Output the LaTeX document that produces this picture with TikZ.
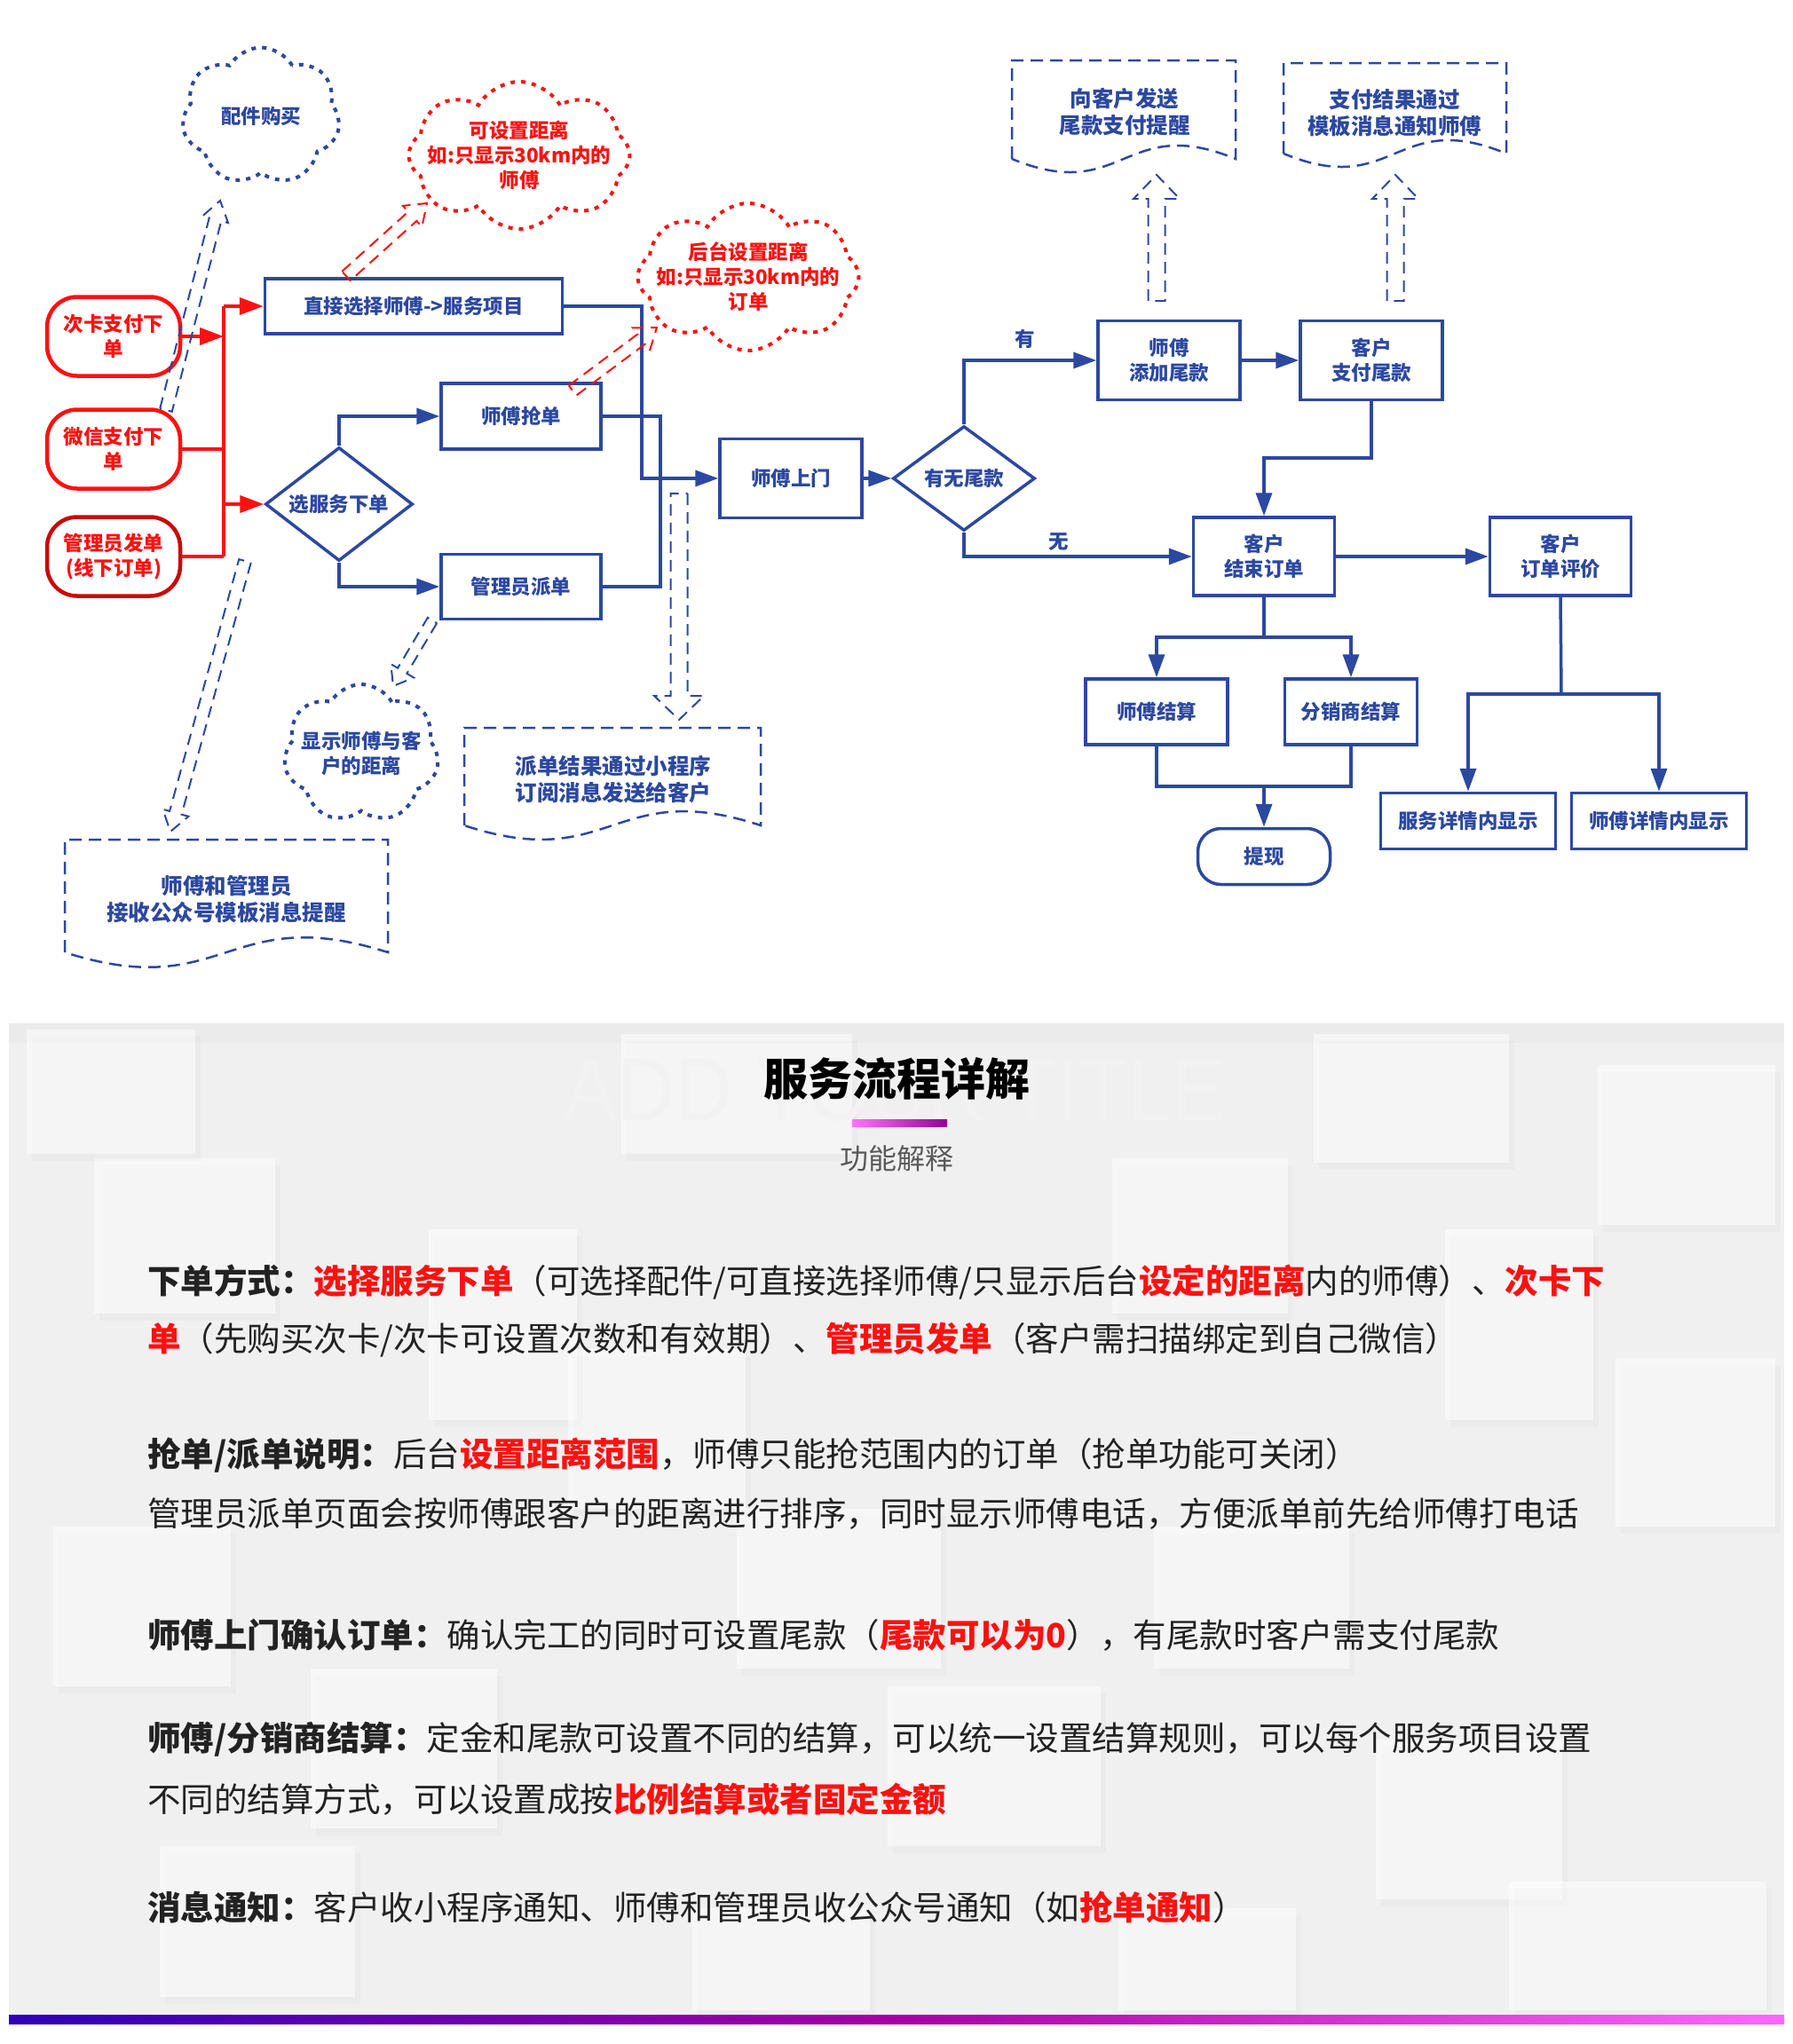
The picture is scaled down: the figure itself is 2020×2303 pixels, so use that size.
\documentclass[tikz,border=0pt]{standalone}
\usepackage{fontspec}
\setmainfont{Noto Sans CJK SC}
\newfontfamily\wmfont{Liberation Sans}
\usetikzlibrary{shapes.symbols,shapes.geometric,arrows.meta,calc}
\definecolor{fblue}{HTML}{2C48A0}
\definecolor{fred}{HTML}{FF1010}
\definecolor{dred}{HTML}{C80A0A}
\definecolor{bodyc}{HTML}{222222}
\definecolor{panel}{HTML}{F0F0F0}
\newcommand\hlred[1]{\textcolor{fred}{\bfseries #1}}
\newcommand\harrow[6]{%
  \coordinate (hA) at (#2);
  \coordinate (hB) at (#3);
  \coordinate (hC) at ($(hB)!#6!(hA)$);
  \draw[#1] ($(hA)!#4!90:(hB)$) -- ($(hC)!#4!90:(hB)$) -- ($(hC)!#5!90:(hB)$) -- (hB)
    -- ($(hC)!#5!-90:(hB)$) -- ($(hC)!#4!-90:(hB)$) -- ($(hA)!#4!-90:(hB)$) -- cycle;
}
\newcommand\docshape[6]{% style, x1, ytop, x2, ybottom, c
  \draw[#1] (#2,#5) -- (#2,#3) -- (#4,#3) -- (#4,#5)
    .. controls ({(#2+#4)/2},{#5-#6}) and ({(#2+#4)/2},{#5+#6}) .. (#2,#5);
}
\newcommand\softsq[4]{% x1 y1 x2 y2
  \fill[black,opacity=.018] (#1+6,#2+8) rectangle (#3+6,#4+8);
  \fill[white,opacity=.5] (#1,#2) rectangle (#3,#4);
}
\tikzset{
  fbfont/.style={font=\bfseries\fontsize{22.5}{28}\selectfont},
  dcfont/.style={font=\bfseries\fontsize{24.5}{30}\selectfont},
  flowbox/.style={rectangle, draw=fblue, line width=3.5pt, text=fblue, fbfont, align=center, inner sep=0pt},
  redbox/.style={rectangle, draw=fred, line width=4.5pt, text=fred, fbfont, align=center, inner sep=0pt,
    rounded corners=34pt, minimum width=150pt, minimum height=89pt},
  bline/.style={draw=fblue, line width=3.5pt},
  barrow/.style={bline, -{Triangle[length=26pt,width=18pt]}},
  rline/.style={draw=fred, line width=4pt},
  rarrow/.style={rline, -{Triangle[length=27pt,width=19pt]}},
  dotcloud/.style={cloud, cloud puffs=7, cloud puff arc=120, cloud ignores aspect, draw=fblue,
    line width=4pt, dash pattern=on 5pt off 7pt, inner sep=0pt},
  redcloud/.style={dotcloud, cloud puffs=8, draw=fred},
  cloudtext/.style={text=fblue, fbfont, align=center, inner sep=0pt},
  redtext/.style={cloudtext, text=fred},
  docline/.style={draw=fblue, line width=2.5pt, dash pattern=on 14pt off 8pt},
  doctext/.style={text=fblue, dcfont, align=center, inner sep=0pt},
  harr/.style={draw=fblue, line width=2pt, dash pattern=on 13pt off 8pt},
  hred/.style={harr, draw=fred},
  lbl/.style={text=fblue, fbfont, inner sep=0pt},
  bodyt/.style={anchor=west, inner sep=0pt, text=bodyc, font=\fontsize{37.5}{45}\selectfont},
}
\begin{document}
\begin{tikzpicture}[x=1pt,y=-1pt]
\useasboundingbox (0,0) rectangle (2020,2303);
\fill[white] (0,0) rectangle (2020,2303);

% ---------------- lower panel background ----------------
\fill[panel] (10,1153) rectangle (2010,2272);
\fill[black,opacity=.02] (10,1153) rectangle (2010,1175);
\softsq{106}{1305}{310}{1480}
\softsq{1253}{1305}{1451}{1480}
\softsq{483}{1385}{650}{1600}
\softsq{1628}{1385}{1795}{1600}
\softsq{30}{1160}{220}{1300}
\softsq{700}{1165}{960}{1300}
\softsq{1480}{1165}{1700}{1310}
\softsq{1800}{1200}{2000}{1380}
\softsq{640}{1520}{840}{1700}
\softsq{1820}{1530}{2000}{1720}
\softsq{60}{1720}{260}{1900}
\softsq{830}{1700}{1060}{1880}
\softsq{1300}{1720}{1520}{1880}
\softsq{350}{1880}{560}{2060}
\softsq{1000}{1900}{1240}{2080}
\softsq{1550}{1960}{1760}{2140}
\softsq{180}{2080}{400}{2250}
\softsq{780}{2150}{980}{2265}
\softsq{1260}{2150}{1460}{2265}
\softsq{1700}{2120}{1990}{2265}

% watermark + title
\node[inner sep=0pt, text=black!5, font=\wmfont\fontsize{100}{100}\selectfont, xscale=0.9] (wm) at (1008,1228) {ADD YOUR TITLE};
\node[inner sep=0pt, font=\bfseries\fontsize{50}{56}\selectfont, text=black] (title) at (1010,1215) {服务流程详解};
\shade[left color=magenta!55!white, right color=violet!80!magenta] (960,1261) rectangle (1067,1269);
\node[inner sep=0pt, font=\fontsize{32}{36}\selectfont, text=black!65] (sub) at (1010,1305) {功能解释};

% body lines
\node[bodyt] (l1) at (166,1444) {\textbf{下单方式：}\hlred{选择服务下单}（可选择配件/可直接选择师傅/只显示后台\hlred{设定的距离}内的师傅）、\hlred{次卡下}};
\node[bodyt] (l2) at (166,1510) {\hlred{单}（先购买次卡/次卡可设置次数和有效期）、\hlred{管理员发单}（客户需扫描绑定到自己微信）};
\node[bodyt] (l3) at (166,1640) {\textbf{抢单/派单说明：}后台\hlred{设置距离范围}，师傅只能抢范围内的订单（抢单功能可关闭）};
\node[bodyt] (l4) at (166,1706) {管理员派单页面会按师傅跟客户的距离进行排序，同时显示师傅电话，方便派单前先给师傅打电话};
\node[bodyt] (l5) at (166,1842) {\textbf{师傅上门确认订单：}确认完工的同时可设置尾款（\hlred{尾款可以为0}），有尾款时客户需支付尾款};
\node[bodyt] (l6) at (166,1960) {\textbf{师傅/分销商结算：}定金和尾款可设置不同的结算，可以统一设置结算规则，可以每个服务项目设置};
\node[bodyt] (l7) at (166,2027) {不同的结算方式，可以设置成按\hlred{比例结算或者固定金额}};
\node[bodyt] (l8) at (166,2149) {\textbf{消息通知：}客户收小程序通知、师傅和管理员收公众号通知（如\hlred{抢单通知}）};

\shade[left color=blue!60!violet!90!black, right color=magenta!60!white, middle color=violet!70!magenta] (10,2270) rectangle (2010,2280);

% ---------------- flowchart: nodes ----------------
\node[redbox] (ck) at (128,379) {次卡支付下\\单};
\node[redbox] (wx) at (128,506) {微信支付下\\单};
\node[redbox, draw=dred] (gl) at (128,627) {管理员发单\\(线下订单)};

\node[flowbox, minimum width=335pt, minimum height=62pt] (zj) at (466,345) {直接选择师傅->服务项目};
\node[diamond, aspect=1.3, draw=fblue, line width=3.5pt, text=fblue, fbfont, inner sep=0pt, minimum width=166pt, minimum height=128pt] (xfw) at (382,568) {选服务下单};
\node[flowbox, minimum width=180pt, minimum height=74pt] (qd) at (587,469) {师傅抢单};
\node[flowbox, minimum width=180pt, minimum height=73pt] (pd) at (587,661) {管理员派单};
\node[flowbox, minimum width=160pt, minimum height=89pt] (sm) at (891,539) {师傅上门};
\node[diamond, aspect=1.35, draw=fblue, line width=3.5pt, text=fblue, fbfont, inner sep=0pt, minimum width=160pt, minimum height=118pt] (yw) at (1086,539) {有无尾款};
\node[flowbox, minimum width=160pt, minimum height=89pt] (tj) at (1317,406) {师傅\\添加尾款};
\node[flowbox, minimum width=160pt, minimum height=89pt] (zf) at (1545,406) {客户\\支付尾款};
\node[flowbox, minimum width=159pt, minimum height=88pt] (js) at (1424,627) {客户\\结束订单};
\node[flowbox, minimum width=159pt, minimum height=88pt] (pj) at (1758,627) {客户\\订单评价};
\node[flowbox, minimum width=160pt, minimum height=74pt] (sfjs) at (1303,802) {师傅结算};
\node[flowbox, minimum width=149pt, minimum height=74pt] (fxjs) at (1522,802) {分销商结算};
\node[flowbox, minimum width=149pt, minimum height=63pt, rounded corners=26pt] (tx) at (1424,965) {提现};
\node[flowbox, minimum width=197pt, minimum height=63pt] (fwxq) at (1654,925) {服务详情内显示};
\node[flowbox, minimum width=197pt, minimum height=63pt] (sfxq) at (1869,925) {师傅详情内显示};

% clouds
\node[dotcloud, minimum width=178pt, minimum height=155pt] (pjgm) at (294,131) {};
\node[cloudtext] (pjgmt) at (pjgm.center) {配件购买};
\node[redcloud, minimum width=249pt, minimum height=166pt] (kszl) at (585,175) {};
\node[redtext] (kszlt) at (kszl.center) {可设置距离\\如:只显示30km内的\\师傅};
\node[redcloud, minimum width=249pt, minimum height=166pt] (htsz) at (843,312) {};
\node[redtext] (htszt) at (htsz.center) {后台设置距离\\如:只显示30km内的\\订单};
\node[dotcloud, minimum width=175pt, minimum height=156pt] (xsjl) at (407,849) {};
\node[cloudtext] (xsjlt) at (xsjl.center) {显示师傅与客\\户的距离};

% documents
\docshape{docline}{1140}{68}{1392}{179}{52}
\node[doctext] (d1) at (1267,126) {向客户发送\\尾款支付提醒};
\docshape{docline}{1446}{71}{1697}{173}{52}
\node[doctext] (d2) at (1571,127) {支付结果通过\\模板消息通知师傅};
\docshape{docline}{73}{946}{437}{1073}{58}
\node[doctext] (d3) at (255,1013) {师傅和管理员\\接收公众号模板消息提醒};
\docshape{docline}{523}{820}{857}{930}{55}
\node[doctext] (d4) at (691,878) {派单结果通过小程序\\订阅消息发送给客户};

% ---------------- connectors ----------------
\coordinate (trunk) at (252,0);
\draw[rarrow] (ck.east) -- (ck.east -| trunk);
\draw[rline] (wx.east) -- (wx.east -| trunk);
\draw[rline] (gl.east) -- (gl.east -| trunk);
\draw[rline] (trunk |- zj.west) -- (trunk |- gl.east);
\draw[rarrow] (trunk |- zj.west) -- (zj.west);
\draw[rarrow] (trunk |- xfw.west) -- (xfw.west);

\draw[barrow] (xfw.north) |- (qd.west);
\draw[barrow] (xfw.south) |- (pd.west);
\coordinate (j1) at (723,539);
\coordinate (j2) at (744,539);
\draw[barrow] (zj.east) -| (j1) -- (sm.west);
\draw[bline] (qd.east) -| (j2);
\draw[bline] (pd.east) -| (j2);
\draw[barrow] (sm.east) -- (yw.west);
\draw[barrow] (yw.north) |- (tj.west);
\draw[barrow] (yw.south) |- (js.west);
\node[lbl] (you) at (1155,382) {有};
\node[lbl] (wu) at (1193,611) {无};
\draw[barrow] (tj.east) -- (zf.west);
\coordinate (j6) at (1545,516);
\draw[barrow] (zf.south) -- (j6) -| (js.north);
\draw[barrow] (js.east) -- (pj.west);
\coordinate (j3) at (1424,718);
\draw[bline] (js.south) -- (j3);
\draw[barrow] (j3) -| (sfjs.north);
\draw[barrow] (j3) -| (fxjs.north);
\coordinate (j4) at (1424,886);
\draw[bline] (sfjs.south) |- (j4) -| (fxjs.south);
\draw[barrow] (j4) -- (tx.north);
\coordinate (j5) at (1759,782);
\draw[bline] (pj.south) -- (j5);
\draw[barrow] (j5) -| (fwxq.north);
\draw[barrow] (j5) -| (sfxq.north);

% hollow dashed arrows
\coordinate (a1s) at (187,462); \coordinate (a1e) at (248,226);
\harrow{harr}{a1s}{a1e}{7pt}{15pt}{22pt}
\coordinate (a2s) at (390,311); \coordinate (a2e) at (481,229);
\harrow{hred}{a2s}{a2e}{7pt}{16pt}{22pt}
\coordinate (a3s) at (645,440); \coordinate (a3e) at (740,369);
\harrow{hred}{a3s}{a3e}{7pt}{16pt}{22pt}
\coordinate (a4s) at (276,632); \coordinate (a4e) at (192,937);
\harrow{harr}{a4s}{a4e}{7pt}{15pt}{22pt}
\coordinate (a5s) at (487,699); \coordinate (a5e) at (443,773);
\harrow{harr}{a5s}{a5e}{6pt}{15pt}{20pt}
\coordinate (a6s) at (765,556); \coordinate (a6e) at (765,811);
\harrow{harr}{a6s}{a6e}{9.5pt}{28pt}{27pt}
\coordinate (a7s) at (1303,339); \coordinate (a7e) at (1303,197);
\harrow{harr}{a7s}{a7e}{9.5pt}{26pt}{27pt}
\coordinate (a8s) at (1572,339); \coordinate (a8e) at (1572,197);
\harrow{harr}{a8s}{a8e}{9.5pt}{26pt}{27pt}
\end{tikzpicture}
\end{document}
